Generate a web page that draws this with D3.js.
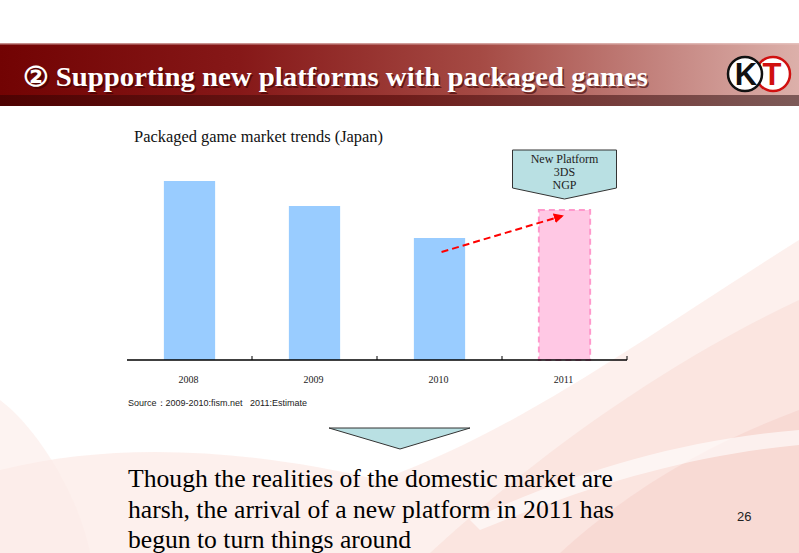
<!DOCTYPE html>
<html><head><meta charset="utf-8">
<script src="https://cdn.jsdelivr.net/npm/d3@7"></script>
<style>html,body{margin:0;padding:0;background:#fff;overflow:hidden}
.serif{font-family:'Liberation Serif','Tinos','Times New Roman','DejaVu Serif',serif}
.sans{font-family:'Liberation Sans','Arimo',Arial,sans-serif}
</style>
</head><body>
<svg id="chart" width="799" height="553"></svg>
<script>
const years = ["2008", "2009", "2010", "2011"];
const marketValues = [179, 154, 122, 150];
const estimateFlags = [false, false, false, true];
const titleText = "② Supporting new platforms with packaged games";
const chartTitle = "Packaged game market trends (Japan)";
const calloutLines = ["New Platform", "3DS", "NGP"];
const sourceText = "Source\uFF1A2009-2010:fism.net\u00A0\u00A0\u00A02011:Estimate";
const bodyLines = ["Though the realities of the domestic market are",
  "harsh, the arrival of a new platform in 2011 has",
  "begun to turn things around"];
const pageNumber = "26";

const svg = d3.select("#chart");
const defs = svg.append("defs");

// background swooshes (subtle)
const g0 = svg.append("g");
g0.append("path").attr("d","M0,553 L0,470 C120,440 250,450 380,480 C520,430 640,340 799,240 L799,553 Z")
  .attr("fill","#fbe3de").attr("opacity",0.55);
g0.append("path").attr("d","M430,553 C520,470 650,370 799,300 L799,553 Z")
  .attr("fill","#f7d0c9").attr("opacity",0.35);
g0.append("path").attr("d","M560,553 C640,480 720,440 799,410 L799,553 Z")
  .attr("fill","#f3c1b9").attr("opacity",0.3);
g0.append("path").attr("d","M0,400 C40,430 80,500 90,553 L0,553 Z")
  .attr("fill","#fcebe8").attr("opacity",0.6);
g0.append("path").attr("d","M470,520 C580,470 680,440 799,430 L799,445 C690,455 590,485 480,530 Z")
  .attr("fill","#ffffff").attr("opacity",0.6);

// header
const hg = defs.append("linearGradient").attr("id","hdr");
hg.append("stop").attr("offset","0").attr("stop-color","#720303");
hg.append("stop").attr("offset","0.3").attr("stop-color","#861818");
hg.append("stop").attr("offset","0.6").attr("stop-color","#a54a44");
hg.append("stop").attr("offset","0.85").attr("stop-color","#c78a85");
hg.append("stop").attr("offset","1").attr("stop-color","#dcb0aa");
const sg = defs.append("linearGradient").attr("id","strip");
sg.append("stop").attr("offset","0").attr("stop-color","#4e0202");
sg.append("stop").attr("offset","0.5").attr("stop-color","#6e1c1a");
sg.append("stop").attr("offset","1").attr("stop-color","#7d5a58");
svg.append("rect").attr("x",0).attr("y",43).attr("width",799).attr("height",52).attr("fill","url(#hdr)");
svg.append("rect").attr("x",0).attr("y",43).attr("width",799).attr("height",1.5).attr("fill","#e8c8c4").attr("opacity",0.7);
svg.append("rect").attr("x",0).attr("y",95).attr("width",799).attr("height",11).attr("fill","url(#strip)");

[["#3a0000",0.6,1.5],["#ffffff",1,0]].forEach(([c,o,d]) => {
  svg.append("text").attr("class","serif").attr("x",23+d).attr("y",86+d).text(titleText)
    .attr("font-weight","bold").attr("font-size",27).attr("fill",c).attr("opacity",o)
    .attr("textLength",625).attr("lengthAdjust","spacingAndGlyphs");
});

// logo
const logo = svg.append("g");
logo.append("circle").attr("cx",773).attr("cy",74).attr("r",17).attr("fill","#fff").attr("stroke","#d01010").attr("stroke-width",2.5);
logo.append("circle").attr("cx",745).attr("cy",74).attr("r",17).attr("fill","#fff").attr("stroke","#111").attr("stroke-width",2.5);
logo.append("text").attr("class","sans").attr("x",746).attr("y",85).attr("text-anchor","middle").text("K")
  .attr("font-weight","bold").attr("font-size",31).attr("fill","#111");
logo.append("text").attr("class","sans").attr("x",772).attr("y",85).attr("text-anchor","middle").text("T")
  .attr("font-weight","bold").attr("font-size",31).attr("fill","#d01010");

// chart
const x = d3.scaleBand().domain(years).range([127, 627]).paddingInner(0.59).paddingOuter(0.295);
const xAxisBand = d3.scaleBand().domain(years).range([127, 627]);
const y = d3.scaleLinear().domain([0, 200]).range([360, 160]);

svg.append("text").attr("class","serif").attr("x",134).attr("y",142).text(chartTitle)
  .attr("font-size",16).attr("fill","#111").attr("textLength",249).attr("lengthAdjust","spacingAndGlyphs");

const bars = svg.append("g");
years.forEach((yr, i) => {
  const est = estimateFlags[i];
  bars.append("rect")
    .attr("x", x(yr)).attr("y", y(marketValues[i]))
    .attr("width", x.bandwidth()).attr("height", y(0) - y(marketValues[i]))
    .attr("fill", est ? "#ffc8e4" : "#99ccff")
    .attr("stroke", est ? "#ff99cc" : "none")
    .attr("stroke-width", est ? 2 : 0)
    .attr("stroke-dasharray", est ? "6,4" : null);
});

// axis
const axisG = svg.append("g").attr("transform","translate(0,360)");
axisG.append("line").attr("x1",127).attr("x2",627).attr("stroke","#000").attr("stroke-width",1.5);
years.forEach((yr, i) => {
  const xx = i < years.length - 1 ? xAxisBand(years[i+1]) : 627;
  axisG.append("line").attr("x1",xx).attr("x2",xx).attr("y1",-4).attr("y2",0).attr("stroke","#000").attr("stroke-width",1);
});
years.forEach(yr => {
  svg.append("text").attr("class","serif").attr("x", xAxisBand(yr) + xAxisBand.bandwidth()/2 - 1).attr("y", 383)
    .attr("text-anchor","middle").text(yr).attr("font-size",10).attr("fill","#222");
});

// arrow from 2010 bar to 2011 bar
const i0 = 2, i1 = 3;
const ax1 = x(years[i0]) + x.bandwidth()*0.54, ay1 = y(marketValues[i0]) + 14;
const ax2 = x(years[i1]) + x.bandwidth()*0.45, ay2 = y(marketValues[i1]) + 6;
defs.append("marker").attr("id","arrowhead").attr("viewBox","0 0 10 10").attr("refX",8).attr("refY",5)
  .attr("markerWidth",5).attr("markerHeight",5).attr("orient","auto")
  .append("path").attr("d","M0,0 L10,5 L0,10 Z").attr("fill","#ff0000");
svg.append("line").attr("x1",ax1).attr("y1",ay1).attr("x2",ax2).attr("y2",ay2)
  .attr("stroke","#ff0000").attr("stroke-width",2).attr("stroke-dasharray","7,4")
  .attr("marker-end","url(#arrowhead)");

// callout
const cx = x(years[3]) + x.bandwidth()/2;
svg.append("path").attr("d",`M${cx-52},150 L${cx+52},150 L${cx+52},188 L${cx},199 L${cx-52},188 Z`)
  .attr("fill","#b9e0e3").attr("stroke","#333").attr("stroke-width",1);
calloutLines.forEach((t, i) => {
  svg.append("text").attr("class","serif").attr("x",cx).attr("y",163 + i*13).attr("text-anchor","middle").text(t)
    .attr("font-size",12).attr("fill","#222");
});

// source
svg.append("text").attr("class","sans").attr("x",128).attr("y",406).text(sourceText)
  .attr("font-size",9).attr("fill","#222");

// down triangle
svg.append("path").attr("d","M329,428 L470,428 L400,449 Z").attr("fill","#b9e0e3").attr("stroke","#333").attr("stroke-width",1);

// body text
const bodyWidths = [485, 486, 283];
bodyLines.forEach((t, i) => {
  svg.append("text").attr("class","serif").attr("x",128).attr("y",487 + i*30.5).text(t)
    .attr("font-size",24.5).attr("fill","#000")
    .attr("textLength",bodyWidths[i]).attr("lengthAdjust","spacingAndGlyphs");
});

svg.append("text").attr("class","sans").attr("x",737).attr("y",521).text(pageNumber)
  .attr("font-size",13).attr("fill","#222");
</script>
</body></html>
